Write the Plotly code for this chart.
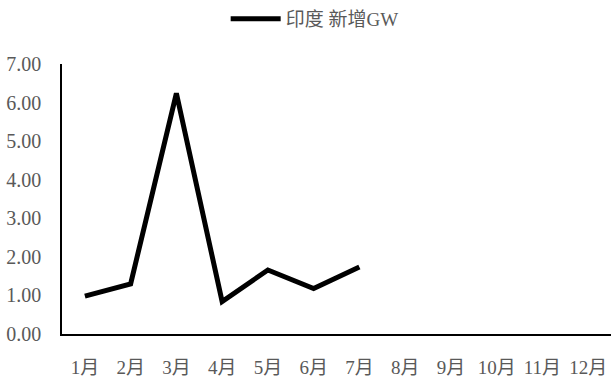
import plotly.graph_objects as go

months = ["1月", "2月", "3月", "4月", "5月", "6月", "7月", "8月", "9月", "10月", "11月", "12月"]
india_new_gw = [0.98, 1.30, 6.24, 0.84, 1.66, 1.18, 1.74]
series_name = "印度 新增GW"
y_ticks = [0, 1, 2, 3, 4, 5, 6, 7]

font_family = "'Liberation Serif', 'Noto Sans CJK SC', serif"
grey = "#595959"
label_font = dict(family=font_family, size=19, color=grey)
value_font = dict(family=font_family, size=20, color=grey)

fig = go.Figure()
fig.add_trace(go.Scatter(
    x=months[:len(india_new_gw)],
    y=india_new_gw,
    mode="lines",
    name=series_name,
    line=dict(color="black", width=5),
))

fig.update_layout(
    width=611,
    height=378,
    margin=dict(l=62, r=0, t=64, b=44),
    paper_bgcolor="white",
    plot_bgcolor="white",
    font=label_font,
    showlegend=True,
    legend=dict(
        orientation="h",
        x=0.515, xanchor="center",
        xref="container",
        y=1.0, yanchor="top",
        yref="container",
        font=label_font,
        itemwidth=50,
    ),
    xaxis=dict(
        type="category",
        categoryorder="array",
        categoryarray=months,
        range=[-0.5, 11.5],
        showline=True,
        linecolor="black",
        linewidth=1.5,
        showgrid=False,
        zeroline=False,
        ticks="",
        tickfont=label_font,
        ticklabelstandoff=15,
    ),
    yaxis=dict(
        range=[0, 7],
        tickvals=y_ticks,
        tickformat=".2f",
        showline=True,
        linecolor="black",
        linewidth=1.5,
        showgrid=False,
        zeroline=False,
        ticks="",
        tickfont=value_font,
        ticklabelstandoff=15,
    ),
)

fig.write_html("out.html")
